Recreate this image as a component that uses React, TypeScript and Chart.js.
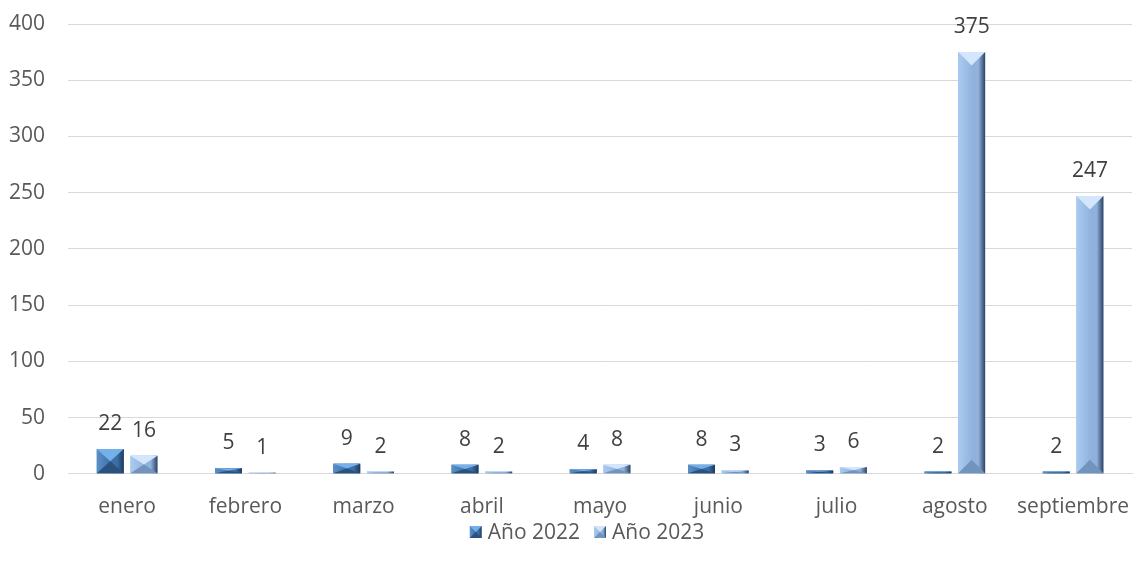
import React, { useEffect, useRef } from "react";
import { Chart, registerables } from "chart.js";

Chart.register(...registerables);

const months = ["enero", "febrero", "marzo", "abril", "mayo", "junio", "julio", "agosto", "septiembre"];
const values2022 = [22, 5, 9, 8, 4, 8, 3, 2, 2];
const values2023 = [16, 1, 2, 2, 8, 3, 6, 375, 247];
const seriesNames = ["Año 2022", "Año 2023"];

const FONT = "'Open Sans', 'Noto Sans', sans-serif";
const FS = 21;

const palettes = [
  { base: "#3c6fa6", left: "#5a8fc8", right: "#1e3a5c", top: "#74b0ea", bottom: "#2b527d" },
  { base: "#8fb1dc", left: "#aacbf1", right: "#2c4363", top: "#d3e6fb", bottom: "#7293bb" },
];

function bevelRect(ctx: any, p: any, l: number, t: number, w: number, h: number) {
  if (h <= 0 || w <= 0) return;
  const r = l + w;
  const b = t + h;
  const cx = l + w / 2;
  const g = ctx.createLinearGradient(l, 0, r, 0);
  g.addColorStop(0, p.left);
  g.addColorStop(0.55, p.base);
  g.addColorStop(0.75, p.base);
  g.addColorStop(1, p.right);
  ctx.fillStyle = g;
  ctx.fillRect(l, t, w, h);
  const d = Math.min(w / 2, h / 2);
  ctx.beginPath();
  ctx.moveTo(l, t);
  ctx.lineTo(r, t);
  ctx.lineTo(cx, t + d);
  ctx.closePath();
  ctx.fillStyle = p.top;
  ctx.fill();
  ctx.beginPath();
  ctx.moveTo(l, b);
  ctx.lineTo(r, b);
  ctx.lineTo(cx, b - d);
  ctx.closePath();
  ctx.fillStyle = p.bottom;
  ctx.fill();
}

const bevelPlugin = {
  id: "bevel",
  afterDatasetsDraw(chart: any) {
    const ctx = chart.ctx;
    chart.data.datasets.forEach((_ds: any, di: number) => {
      const meta = chart.getDatasetMeta(di);
      const p = palettes[di];
      meta.data.forEach((el: any) => {
        const { x, y, base, width } = el.getProps(["x", "y", "base", "width"], true);
        const t = Math.min(y, base);
        const b = Math.max(y, base);
        ctx.save();
        bevelRect(ctx, p, x - width / 2, t, width, b - t);
        ctx.restore();
      });
    });
  },
};

const labelPlugin = {
  id: "valueLabels",
  afterDatasetsDraw(chart: any) {
    const ctx = chart.ctx;
    ctx.save();
    ctx.font = `${FS}px ${FONT}`;
    ctx.fillStyle = "#404040";
    ctx.textAlign = "center";
    ctx.textBaseline = "middle";
    chart.data.datasets.forEach((ds: any, di: number) => {
      const meta = chart.getDatasetMeta(di);
      meta.data.forEach((el: any, i: number) => {
        const { x, y } = el.getProps(["x", "y"], true);
        ctx.fillText(String(ds.data[i]), x, y - 25);
      });
    });
    ctx.restore();
  },
};

const legendPlugin = {
  id: "bevelLegend",
  afterDraw(chart: any) {
    const ctx = chart.ctx;
    ctx.save();
    ctx.font = `${FS}px ${FONT}`;
    ctx.textBaseline = "middle";
    ctx.textAlign = "left";
    const box = 12;
    const gapBox = 6;
    const gapItem = 14;
    const items = chart.data.datasets.map((ds: any, i: number) => ({
      text: ds.label,
      w: ctx.measureText(ds.label).width,
      p: palettes[i],
    }));
    const total = items.reduce((s: number, it: any) => s + box + gapBox + it.w, 0) + gapItem * (items.length - 1);
    let x = chart.width / 2 + 16 - total / 2;
    const cy = 532;
    items.forEach((it: any) => {
      bevelRect(ctx, it.p, x, cy - box / 2, box, box);
      x += box + gapBox;
      ctx.fillStyle = "#595959";
      ctx.fillText(it.text, x, cy + 1);
      x += it.w + gapItem;
    });
    ctx.restore();
  },
};

export default function App() {
  const ref = useRef<HTMLCanvasElement | null>(null);
  useEffect(() => {
    if (!ref.current) return;
    const chart = new Chart(ref.current, {
      type: "bar",
      data: {
        labels: months,
        datasets: [
          { label: seriesNames[0], data: values2022, backgroundColor: palettes[0].base, borderWidth: 0 },
          { label: seriesNames[1], data: values2023, backgroundColor: palettes[1].base, borderWidth: 0 },
        ],
      },
      options: {
        responsive: true,
        maintainAspectRatio: false,
        animation: false,
        layout: { padding: { left: 8, right: 0, top: 0, bottom: 35 } },
        datasets: { bar: { categoryPercentage: 0.57, barPercentage: 0.8 } },
        scales: {
          x: {
            grid: { display: false },
            border: { display: true, color: "#d9d9d9", width: 1 },
            ticks: {
              color: "#595959",
              font: { family: FONT, size: FS },
              padding: 13,
              maxRotation: 0,
              minRotation: 0,
              autoSkip: false,
            },
          },
          y: {
            min: 0,
            max: 400,
            ticks: { stepSize: 50, color: "#595959", font: { family: FONT, size: FS }, padding: 23 },
            grid: { color: "#d9d9d9", lineWidth: 1, drawTicks: false },
            border: { display: false },
            afterFit: (s: any) => {
              s.width = 60;
              s.paddingTop = 24;
            },
          },
        },
        plugins: {
          legend: { display: false },
          tooltip: { enabled: false },
        },
      },
      plugins: [bevelPlugin, labelPlugin, legendPlugin],
    });
    return () => chart.destroy();
  }, []);
  return (
    <div style={{ position: "fixed", left: 0, top: 0, width: 1142, height: 568, background: "#fff" }}>
      <canvas ref={ref} />
    </div>
  );
}
